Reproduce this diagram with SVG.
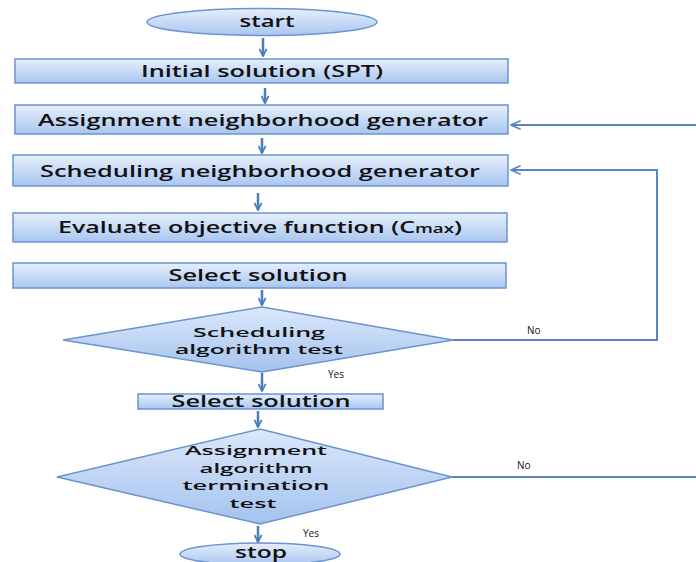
<svg xmlns="http://www.w3.org/2000/svg" width="696" height="562" viewBox="0 0 696 562">
<defs>
<linearGradient id="g" x1="0" y1="0" x2="0" y2="1">
<stop offset="0" stop-color="#e6effc"/>
<stop offset="1" stop-color="#a9c6f0"/>
</linearGradient>
<linearGradient id="gd" x1="0" y1="0" x2="0" y2="1">
<stop offset="0" stop-color="#dce8fb"/>
<stop offset="1" stop-color="#a4c2ee"/>
</linearGradient>
<marker id="ah" viewBox="0 0 10 10" refX="9" refY="5" markerWidth="9" markerHeight="9" orient="auto" markerUnits="userSpaceOnUse">
<path d="M1,1 L9,5 L1,9" fill="none" stroke="#4a7ebb" stroke-width="2"/>
</marker>
<marker id="al" viewBox="0 0 10 10" refX="9" refY="5" markerWidth="12" markerHeight="12" orient="auto" markerUnits="userSpaceOnUse">
<path d="M1,1.5 L9,5 L1,8.5" fill="none" stroke="#5b86c4" stroke-width="1.4"/>
</marker>
</defs>
<style>
.box{fill:url(#g);stroke:#6b94cf;stroke-width:1.5}
.dia{fill:url(#gd);stroke:#6b94cf;stroke-width:1.5}
.t{font-family:"Open Sans","DejaVu Sans",sans-serif;font-size:16px;font-weight:600;fill:#111;text-anchor:middle}
.d{font-size:13px}
.s{font-family:"Open Sans","DejaVu Sans",sans-serif;font-size:10px;fill:#111}
.a{fill:none;stroke:#4a7ebb;stroke-width:2.5;marker-end:url(#ah)}
.f{fill:none;stroke:#5b86c4;stroke-width:2;marker-end:url(#al)}
.n{fill:none;stroke:#5b86c4;stroke-width:2}
</style>
<rect width="696" height="562" fill="#ffffff"/>
<g id="connectors">
<path class="a" d="M263,38 V56"/>
<path class="a" d="M265,88 V103"/>
<path class="a" d="M262,138 V153"/>
<path class="a" d="M258,193 V210"/>
<path class="a" d="M262,290 V305"/>
<path class="a" d="M262,373 V391"/>
<path class="a" d="M258,411 V427"/>
<path class="a" d="M258,526 V542"/>
<path class="f" d="M453,340 H657 V170 H511"/>
<path class="f" d="M696,125 H511"/>
<path class="n" d="M452,477 H696"/>
</g>
<g id="start">
<ellipse class="box" cx="262" cy="22" rx="115" ry="13.5"/>
<text class="t" x="267" y="27" textLength="55" lengthAdjust="spacingAndGlyphs">start</text>
</g>
<g id="initial">
<rect class="box" x="15" y="59" width="493" height="24"/>
<text class="t" x="262" y="77" textLength="242" lengthAdjust="spacingAndGlyphs">Initial solution (SPT)</text>
</g>
<g id="assign-gen">
<rect class="box" x="15" y="105" width="493" height="29"/>
<text class="t" x="263" y="126" textLength="450" lengthAdjust="spacingAndGlyphs">Assignment neighborhood generator</text>
</g>
<g id="sched-gen">
<rect class="box" x="13" y="155" width="495" height="31"/>
<text class="t" x="260" y="177" textLength="440" lengthAdjust="spacingAndGlyphs">Scheduling neighborhood generator</text>
</g>
<g id="evaluate">
<rect class="box" x="13" y="213" width="494" height="29"/>
<text class="t" x="260" y="233" textLength="404" lengthAdjust="spacingAndGlyphs">Evaluate objective function (C<tspan font-size="12">max</tspan>)</text>
</g>
<g id="select1">
<rect class="box" x="13" y="263" width="493" height="25"/>
<text class="t" x="258" y="281" textLength="179" lengthAdjust="spacingAndGlyphs">Select solution</text>
</g>
<g id="sched-test">
<polygon class="dia" points="262,307 453,340 262,372 63,340"/>
<text class="t d" x="259" y="337" textLength="132" lengthAdjust="spacingAndGlyphs">Scheduling</text>
<text class="t d" x="259" y="354" textLength="168" lengthAdjust="spacingAndGlyphs">algorithm test</text>
</g>
<g id="select2">
<rect class="box" x="138" y="394" width="245" height="15"/>
<text class="t" x="261" y="407" textLength="179" lengthAdjust="spacingAndGlyphs">Select solution</text>
</g>
<g id="assign-test">
<polygon class="dia" points="260,429 452,477 260,524 57,477"/>
<text class="t d" x="256" y="455" textLength="142" lengthAdjust="spacingAndGlyphs">Assignment</text>
<text class="t d" x="256" y="473" textLength="113" lengthAdjust="spacingAndGlyphs">algorithm</text>
<text class="t d" x="256" y="490" textLength="147" lengthAdjust="spacingAndGlyphs">termination</text>
<text class="t d" x="253" y="508" textLength="47" lengthAdjust="spacingAndGlyphs">test</text>
</g>
<g id="stop">
<ellipse class="box" cx="260" cy="554" rx="80" ry="11"/>
<text class="t" x="261" y="558" textLength="52" lengthAdjust="spacingAndGlyphs">stop</text>
</g>
<g id="labels">
<text class="s" x="527" y="334">No</text>
<text class="s" x="328" y="378">Yes</text>
<text class="s" x="517" y="469">No</text>
<text class="s" x="303" y="537">Yes</text>
</g>
</svg>
